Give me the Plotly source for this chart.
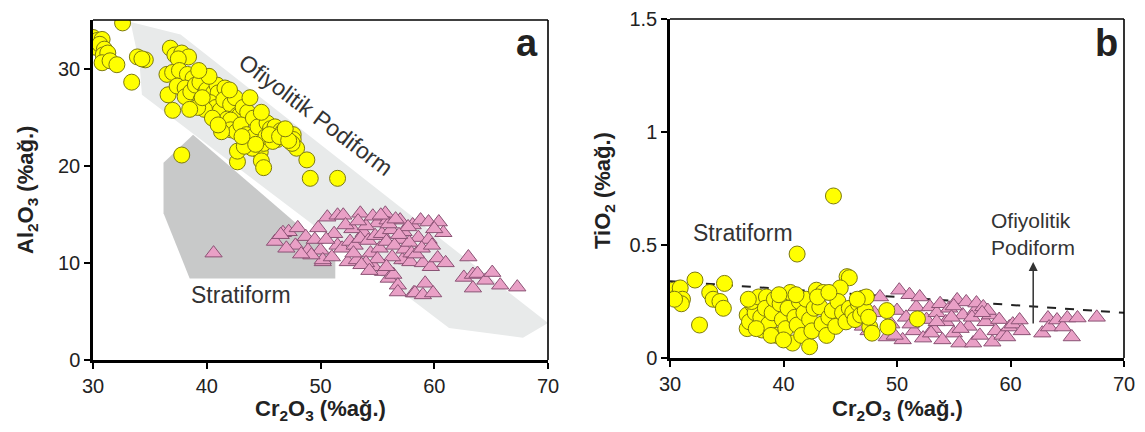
import plotly.graph_objects as go

# ---------------- DATA ----------------
# Panel a: Cr2O3 vs Al2O3
yellow_a_x = [30.0,30.4,30.8,30.2,30.6,31.0,30.9,31.3,30.8,31.5,32.1,32.6,33.4,33.9,34.6,34.3,
              36.8,37.2,37.8,38.4,37.5,36.5,37.0,37.6,38.3,38.8,36.6,37.0,37.4,38.1,38.1,38.6,39.0,39.4,39.9,39.5,
              40.0,40.6,40.9,41.0,41.6,40.3,40.8,41.2,41.5,42.1,42.5,42.7,42.9,43.2,43.6,41.8,42.1,42.1,42.6,43.0,
              43.5,43.8,44.1,44.1,44.5,44.7,45.0,45.3,45.6,46.0,46.2,46.2,46.5,46.7,47.0,47.1,47.3,47.6,47.6,47.9,
              47.5,45.2,45.8,44.0,44.8,45.0,42.7,42.7,43.3,37.8,48.8,49.1,51.5,39.8,40.5,41.3,39.2,38.5,44.8,43.8,
              42.0,40.2,39.3,45.5,46.4,47.2,46.9,44.3,43.1,41.0,39.6]
yellow_a_y = [33.2,32.9,33.0,32.2,32.5,32.0,31.4,31.6,30.6,30.8,30.4,34.7,28.6,31.2,30.9,31.0,
              32.1,31.4,31.6,31.2,31.0,29.4,29.6,29.8,29.4,29.0,27.3,25.7,28.2,28.0,27.1,27.6,28.3,28.6,27.6,26.8,
              27.8,27.5,28.3,27.5,28.0,26.5,26.0,25.7,26.8,26.3,27.0,25.2,25.2,26.0,25.5,24.8,24.7,23.7,23.5,24.2,
              23.2,22.7,24.9,23.0,24.0,21.4,22.3,24.4,23.8,24.0,22.7,22.9,23.6,23.5,23.0,23.4,22.8,23.2,22.7,21.8,
              22.3,23.0,22.5,21.8,20.5,19.8,20.4,21.5,22.0,21.1,20.6,18.7,18.7,25.8,24.9,23.5,26.0,25.8,25.5,27.0,
              27.8,29.2,29.8,23.2,23.0,22.6,23.8,22.2,23.0,24.2,27.0]

pink_a_x = [40.6,46.0,46.7,47.2,47.8,48.0,48.7,48.9,49.5,49.8,50.0,50.2,50.2,50.6,51.0,51.5,51.5,51.9,52.0,52.4,
            52.6,53.2,53.5,53.8,54.4,54.7,55.0,55.9,55.7,55.5,56.0,56.4,56.8,56.8,57.0,57.0,57.6,57.2,57.9,58.1,
            58.6,58.8,59.0,59.5,59.5,59.7,60.3,60.4,60.8,61.0,58.2,58.3,59.0,59.2,59.9,62.6,63.0,63.4,63.4,63.8,
            64.5,65.1,65.8,67.3,
            52.8,53.0,53.5,54.0,54.2,54.8,55.2,55.4,55.8,56.2,56.5,56.3,56.0,56.6,57.3,57.4,57.8,58.0,58.4,55.0,
            54.0,53.6,52.9,51.2,50.5,49.2,48.3,47.0,46.5,52.2,53.3,54.6,55.3,58.9,59.8,60.0,57.7,56.9,54.3,55.8]
pink_a_y = [11.0,12.2,13.1,13.2,11.8,13.6,12.7,11.3,12.4,13.6,11.3,10.1,10.3,14.7,10.6,14.9,11.8,11.5,14.9,10.1,
            12.2,10.3,15.1,13.1,11.0,9.6,14.1,14.4,15.1,9.1,8.4,8.8,7.7,7.0,12.4,14.4,10.3,10.3,10.1,13.9,
            12.6,14.4,10.0,14.2,12.4,9.6,10.5,14.2,13.1,10.0,6.9,6.9,6.7,7.9,6.9,8.5,10.6,8.8,7.4,8.9,
            8.2,9.0,7.7,7.5,
            13.5,11.8,12.5,13.8,12.3,12.8,11.5,13.0,12.2,13.4,11.8,10.6,14.0,14.5,13.2,11.4,12.1,11.0,10.9,10.4,
            10.0,9.8,11.0,13.0,12.4,10.8,10.9,11.5,12.9,13.9,14.3,14.8,14.9,11.5,11.8,13.5,13.7,12.9,9.2,9.6]

# Field boundaries (panel a)
podiform_field_x = [33.3, 37.7, 70.0, 67.8, 61.3, 34.3, 34.1]
podiform_field_y = [34.8, 33.5, 3.8, 2.3, 3.3, 27.3, 30.4]
stratiform_field_x = [38.8, 51.3, 51.3, 38.5, 36.2, 36.2]
stratiform_field_y = [23.2, 10.6, 8.4, 8.4, 15.1, 20.3]

# Panel b: Cr2O3 vs TiO2
yellow_b_x = [30.0,30.3,30.6,30.9,31.1,31.0,30.4,32.2,32.6,33.5,33.8,34.4,34.7,34.8,41.2,44.4,45.6,45.8,45.0,
              36.8,36.8,37.0,37.3,37.5,37.2,37.8,38.1,38.0,38.5,38.4,38.7,39.0,39.2,39.4,39.7,39.9,40.2,40.4,40.6,
              40.8,41.0,41.2,41.4,41.6,41.8,42.0,42.3,42.3,42.5,42.7,42.9,43.2,43.5,43.4,43.8,44.0,44.3,44.6,44.8,
              45.2,45.5,45.8,46.1,46.3,46.6,46.8,47.0,47.2,47.3,47.6,47.8,47.5,49.1,49.2,51.8,37.6,38.9,40.0,36.9,
              39.6,41.1,43.0,44.0,46.5]
yellow_b_y = [0.28,0.30,0.27,0.31,0.26,0.24,0.26,0.345,0.146,0.29,0.26,0.25,0.22,0.33,0.46,0.717,0.36,0.355,0.31,
              0.19,0.13,0.16,0.235,0.20,0.25,0.27,0.124,0.18,0.27,0.22,0.15,0.20,0.26,0.10,0.24,0.17,0.13,0.22,0.29,
              0.066,0.18,0.146,0.25,0.10,0.20,0.26,0.05,0.17,0.12,0.22,0.30,0.226,0.29,0.15,0.10,0.18,0.21,0.14,0.25,
              0.20,0.16,0.22,0.20,0.17,0.24,0.19,0.265,0.21,0.27,0.137,0.11,0.18,0.21,0.137,0.173,0.13,0.10,0.08,0.26,
              0.28,0.28,0.27,0.29,0.26]

pink_b_x = [47.0,47.5,48.0,48.5,49.1,49.5,50.0,50.2,50.5,50.8,51.1,51.5,51.7,52.0,52.3,52.6,52.9,53.2,53.5,53.8,
            54.0,54.3,54.6,55.0,55.3,55.5,55.8,56.1,56.3,56.7,56.9,57.0,57.3,57.6,57.8,58.2,58.4,58.7,59.0,59.3,
            59.7,59.9,60.2,60.8,61.0,62.8,63.3,63.4,64.1,64.6,65.0,65.4,65.9,67.6,53.0,55.6,54.8,56.6,58.0,51.2,
            49.8,57.5,55.0,53.5]
pink_b_y = [0.14,0.12,0.20,0.27,0.093,0.15,0.21,0.30,0.08,0.18,0.28,0.12,0.226,0.27,0.088,0.17,0.226,0.13,0.20,0.24,
            0.08,0.16,0.22,0.11,0.257,0.066,0.19,0.248,0.14,0.066,0.21,0.243,0.10,0.226,0.16,0.19,0.07,0.12,0.17,0.10,
            0.093,0.137,0.15,0.168,0.12,0.11,0.177,0.137,0.168,0.137,0.177,0.093,0.177,0.18,0.11,0.13,0.18,0.18,0.21,0.15,
            0.10,0.20,0.23,0.16]

boundary_x = [30, 70]
boundary_y = [0.34, 0.20]

x_ticks = [30, 40, 50, 60, 70]
ya_ticks = [0, 10, 20, 30]
yb_ticks = [0, 0.5, 1, 1.5]
yb_labels = ["0", "0.5", "1", "1.5"]

# ---------------- STYLE ----------------
FONT = "Arial, Liberation Sans, sans-serif"
YEL = "#FFFF00"
YEL_LINE = "#7d7a10"
PINK = "#E9A0C6"
PINK_LINE = "#8a5274"
W, H = 1145, 432
OFF = 8  # page body margin


def px(p):
    return (p - OFF) / W


def py(p):
    return 1 - (p - OFF) / H


dom_ax = [px(93), px(548)]
dom_ay = [py(360), py(20)]
dom_bx = [px(670), px(1124)]
dom_by = [py(358), py(19)]

fig = go.Figure()

# Fields
fig.add_trace(go.Scatter(x=podiform_field_x, y=podiform_field_y, fill="toself", mode="none",
                         fillcolor="#E8EAEA", xaxis="x", yaxis="y", showlegend=False, hoverinfo="skip"))
fig.add_trace(go.Scatter(x=stratiform_field_x, y=stratiform_field_y, fill="toself", mode="none",
                         fillcolor="#C8C9C9", xaxis="x", yaxis="y", showlegend=False, hoverinfo="skip"))

fig.add_trace(go.Scatter(x=pink_a_x, y=pink_a_y, mode="markers", xaxis="x", yaxis="y", showlegend=False,
                         marker=dict(symbol="triangle-up", size=15, color=PINK, line=dict(color=PINK_LINE, width=1))))
fig.add_trace(go.Scatter(x=yellow_a_x, y=yellow_a_y, mode="markers", xaxis="x", yaxis="y", showlegend=False,
                         marker=dict(symbol="circle", size=16, color=YEL, line=dict(color=YEL_LINE, width=1))))

fig.add_trace(go.Scatter(x=boundary_x, y=boundary_y, mode="lines", xaxis="x2", yaxis="y2", showlegend=False,
                         line=dict(color="#222222", width=2, dash="dash")))
fig.add_trace(go.Scatter(x=pink_b_x, y=pink_b_y, mode="markers", xaxis="x2", yaxis="y2", showlegend=False,
                         marker=dict(symbol="triangle-up", size=15, color=PINK, line=dict(color=PINK_LINE, width=1))))
fig.add_trace(go.Scatter(x=yellow_b_x, y=yellow_b_y, mode="markers", xaxis="x2", yaxis="y2", showlegend=False,
                         marker=dict(symbol="circle", size=16, color=YEL, line=dict(color=YEL_LINE, width=1))))

axis_common = dict(showline=True, linecolor="black", linewidth=2.5, ticks="outside", ticklen=6, tickwidth=2,
                   tickcolor="black", showgrid=False, zeroline=False,
                   tickfont=dict(family=FONT, size=20, color="#222222"))

fig.update_layout(
    width=W, height=H, margin=dict(l=0, r=0, t=0, b=0, autoexpand=False),
    paper_bgcolor="white", plot_bgcolor="white",
    xaxis=dict(domain=dom_ax, range=[30, 70], tickvals=x_ticks, anchor="y", **axis_common),
    yaxis=dict(domain=dom_ay, range=[0, 35], tickvals=ya_ticks, anchor="x", **axis_common),
    xaxis2=dict(domain=dom_bx, range=[30, 70], tickvals=x_ticks, anchor="y2", **axis_common),
    yaxis2=dict(domain=dom_by, range=[0, 1.5], tickvals=yb_ticks, ticktext=yb_labels, anchor="x2", **axis_common),
    showlegend=False,
)

# Frame top/right lines
for xd, yd in [(dom_ax, dom_ay), (dom_bx, dom_by)]:
    fig.add_shape(type="line", xref="paper", yref="paper", x0=xd[0], x1=xd[1], y0=yd[1], y1=yd[1],
                  line=dict(color="black", width=1.6))
    fig.add_shape(type="line", xref="paper", yref="paper", x0=xd[1], x1=xd[1], y0=yd[0], y1=yd[1],
                  line=dict(color="black", width=1.6))

ann = []
title_font = dict(family=FONT, size=22, color="#222222")
ann.append(dict(text="<b>Cr<sub>2</sub>O<sub>3</sub> (%ağ.)</b>", xref="paper", yref="paper",
                x=(dom_ax[0] + dom_ax[1]) / 2, y=py(410), showarrow=False, font=title_font,
                xanchor="center", yanchor="middle"))
ann.append(dict(text="<b>Cr<sub>2</sub>O<sub>3</sub> (%ağ.)</b>", xref="paper", yref="paper",
                x=(dom_bx[0] + dom_bx[1]) / 2, y=py(410), showarrow=False, font=title_font,
                xanchor="center", yanchor="middle"))
ann.append(dict(text="<b>Al<sub>2</sub>O<sub>3</sub> (%ağ.)</b>", xref="paper", yref="paper",
                x=px(27), y=py(190), showarrow=False, font=title_font, textangle=-90,
                xanchor="center", yanchor="middle"))
ann.append(dict(text="<b>TiO<sub>2</sub> (%ağ.)</b>", xref="paper", yref="paper",
                x=px(604), y=py(190), showarrow=False, font=title_font, textangle=-90,
                xanchor="center", yanchor="middle"))
# panel letters
ann.append(dict(text="<b>a</b>", xref="paper", yref="paper", x=px(527), y=py(43), showarrow=False,
                font=dict(family=FONT, size=38, color="#222222"), xanchor="center", yanchor="middle"))
ann.append(dict(text="<b>b</b>", xref="paper", yref="paper", x=px(1106), y=py(43), showarrow=False,
                font=dict(family=FONT, size=38, color="#222222"), xanchor="center", yanchor="middle"))
# field labels
ann.append(dict(text="Ofiyolitik Podiform", xref="x", yref="y", x=49.6, y=25.2, showarrow=False,
                textangle=37, font=dict(family=FONT, size=23, color="#333333")))
ann.append(dict(text="Stratiform", xref="x", yref="y", x=43.0, y=6.7, showarrow=False,
                font=dict(family=FONT, size=23, color="#333333")))
ann.append(dict(text="Stratiform", xref="x2", yref="y2", x=36.4, y=0.553, showarrow=False,
                font=dict(family=FONT, size=23, color="#333333")))
ann.append(dict(text="Ofiyolitik<br>Podiform", xref="x2", yref="y2", x=62.0, y=0.55, showarrow=False,
                align="left", font=dict(family=FONT, size=21, color="#333333")))
ann.append(dict(text="", xref="x2", yref="y2", x=62.0, y=0.425, ax=62.0, ay=0.146,
                axref="x2", ayref="y2", showarrow=True, arrowhead=2, arrowsize=1.2, arrowwidth=1.5,
                arrowcolor="#333333"))
fig.update_layout(annotations=ann)

fig.write_html("out.html")
